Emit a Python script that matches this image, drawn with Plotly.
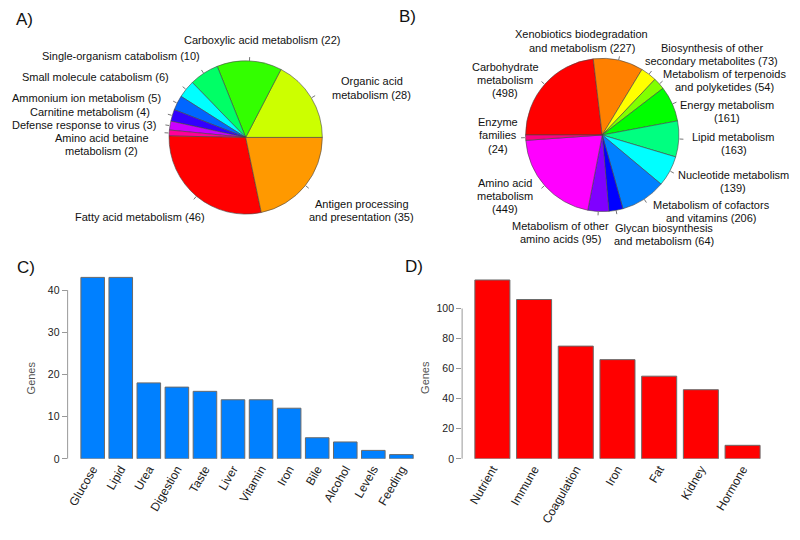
import math
import plotly.graph_objects as go

W, H = 800, 540
# body margin is removed in the page (see write_html post_script), so no offset is needed
OX, OY = 0, 0

# ---------------- DATA ----------------
# Panel A (slices in drawing order, counter-clockwise from 3 o'clock)
a_names = ["Organic acid\nmetabolism", "Carboxylic acid metabolism", "Single-organism catabolism",
           "Small molecule catabolism", "Ammonium ion metabolism", "Carnitine metabolism",
           "Defense response to virus", "Amino acid betaine\nmetabolism", "Fatty acid metabolism",
           "Antigen processing\nand presentation"]
a_values = [28, 22, 10, 6, 5, 4, 3, 2, 46, 35]

# Panel B (slices in drawing order, clockwise from 9 o'clock)
b_names = ["Carbohydrate\nmetabolism\n", "Xenobiotics biodegradation\nand metabolism",
           "Biosynthesis of other\nsecondary metabolites", "Metabolism of terpenoids\nand polyketides",
           "Energy metabolism\n", "Lipid metabolism\n", "Nucleotide metabolism\n",
           "Metabolism of cofactors\nand vitamins", "Glycan biosynthesis\nand metabolism",
           "Metabolism of other\namino acids", "Amino acid\nmetabolism\n", "Enzyme\nfamilies\n"]
b_values = [498, 227, 73, 54, 161, 163, 139, 206, 64, 95, 449, 24]

# Panel C
c_categories = ["Glucose", "Lipid", "Urea", "Digestion", "Taste", "Liver", "Vitamin", "Iron",
                "Bile", "Alcohol", "Levels", "Feeding"]
c_values = [43, 43, 18, 17, 16, 14, 14, 12, 5, 4, 2, 1]
c_ticks = [0, 10, 20, 30, 40]

# Panel D
d_categories = ["Nutrient", "Immune", "Coagulation", "Iron", "Fat", "Kidney", "Hormone"]
d_values = [119, 106, 75, 66, 55, 46, 9]
d_ticks = [0, 20, 40, 60, 80, 100]

# ---------------- STYLE / LAYOUT ----------------
a_colors = ["#CCFF00", "#33FF00", "#00FF66", "#00FFFF", "#0066FF", "#3300FF",
            "#CC00FF", "#FF0099", "#FF0000", "#FF9900"]
b_colors = ["#FF0000", "#FF8000", "#FFFF00", "#80FF00", "#00FF00", "#00FF80",
            "#00FFFF", "#0080FF", "#0000FF", "#8000FF", "#FF00FF", "#FF0080"]

FONT = "Liberation Sans, Arial, sans-serif"
LBL_SIZE = 11
LINE_H = 13.3

pieA = dict(cx=245, cy=139, r=77.5)
pieB = dict(cx=602, cy=136.5, r=77.5)

# label block centres in pixels
a_label_pos = [(371, 89), (261.5, 40), (120, 57), (95, 78), (85.5, 99), (89, 113),
               (83, 126), (101, 146), (139.5, 219), (361, 213)]
b_label_pos = [(505, 81), (581.7, 41.5), (711.7, 55), (724, 81.5), (727, 112.5),
               (733.5, 145.5), (733, 183.5), (711, 213.5), (663.5, 237.5), (560, 235.5),
               (505, 198), (498, 137)]


def X(px):
    return (px - OX) / W


def Y(py):
    return 1 - (py - OY) / H


fig = go.Figure()
shapes = []
annotations = []


def add_pie(names, values, colors, geo, direction, start_deg, label_pos):
    cx, cy, r = geo["cx"], geo["cy"], geo["r"]
    total = float(sum(values))
    # plotly rotation is measured clockwise from 12 o'clock
    rotation = 90 - start_deg
    if direction == "counterclockwise":
        # plotly places the first counter-clockwise slice on the clockwise side of 'rotation'
        rotation -= values[0] / total * 360.0
    fig.add_trace(go.Pie(
        values=values, labels=[n.replace("\n", " ") for n in names],
        marker=dict(colors=colors, line=dict(color="#444444", width=0.6)),
        sort=False, direction=direction, rotation=rotation,
        textinfo="none", showlegend=False, hoverinfo="label+value",
        domain=dict(x=[X(cx - r), X(cx + r)], y=[Y(cy + r), Y(cy - r)]),
    ))
    cum = 0.0
    sgn = 1 if direction == "counterclockwise" else -1
    for i, v in enumerate(values):
        mid = start_deg + sgn * (cum + v / 2.0) / total * 360.0
        cum += v
        t = math.radians(mid)
        x0, y0 = cx + r * math.cos(t), cy - r * math.sin(t)
        x1, y1 = cx + 1.05 * r * math.cos(t), cy - 1.05 * r * math.sin(t)
        shapes.append(dict(type="line", xref="paper", yref="paper",
                           x0=X(x0), y0=Y(y0), x1=X(x1), y1=Y(y1),
                           line=dict(color="#777777", width=1)))
        text = names[i]
        if text.endswith("\n"):
            text = text + "(%d)" % v
        else:
            text = text + " (%d)" % v
        lines = text.split("\n")
        lx, ly = label_pos[i]
        n = len(lines)
        for j, ln in enumerate(lines):
            yy = ly + (j - (n - 1) / 2.0) * LINE_H
            annotations.append(dict(x=X(lx), y=Y(yy), xref="paper", yref="paper",
                                    text=ln, showarrow=False, xanchor="center",
                                    yanchor="middle",
                                    font=dict(family=FONT, size=LBL_SIZE, color="#111111")))


add_pie(a_names, a_values, a_colors, pieA, "counterclockwise", 0, a_label_pos)
add_pie(b_names, b_values, b_colors, pieB, "clockwise", 180, b_label_pos)

# ---------------- BARS ----------------
BASE = 464  # pixel of y = 0


def bar_panel(cats, vals, color, xaxis, yaxis, axis_px, first_center, step, right_px,
              ymax, top_px, ticks, gap):
    fig.add_trace(go.Bar(
        x=cats, y=vals, xaxis=xaxis, yaxis=yaxis, showlegend=False,
        marker=dict(color=color, line=dict(color="#6a6a6a", width=1)),
    ))
    xr = [(axis_px - first_center) / step, (right_px - first_center) / step]
    xname = "xaxis" if xaxis == "x" else "xaxis" + xaxis[1:]
    yname = "yaxis" if yaxis == "y" else "yaxis" + yaxis[1:]
    fig.layout[xname] = dict(
        domain=[X(axis_px), X(right_px)], range=xr, type="category",
        showline=False, showgrid=False, zeroline=False, ticks="",
        tickangle=-60, anchor=yaxis,
        tickfont=dict(family=FONT, size=12, color="#222222"),
    )
    fig.layout[yname] = dict(
        domain=[Y(BASE), Y(top_px)], range=[0, ymax], anchor=xaxis,
        showline=False, showgrid=False, zeroline=False,
        tickmode="array", tickvals=ticks, ticks="outside", ticklen=5,
        tickcolor="#999999", tickwidth=1,
        tickfont=dict(family=FONT, size=10.5, color="#222222"),
    )
    shapes.append(dict(type="line", xref=xaxis + " domain", yref=yaxis,
                       x0=0, x1=0, y0=ticks[0], y1=ticks[-1],
                       line=dict(color="#999999", width=1)))
    fig.update_layout(bargap=gap)


bar_panel(c_categories, c_values, "#0080FF", "x", "y", 66.7, 91.8, 28.1, 420,
          45, 464 - 45 * 4.267, c_ticks, 0.16)
bar_panel(d_categories, d_values, "#FF0000", "x2", "y2", 461.7, 492, 41.75, 785,
          125, 464 - 125 * 1.52, d_ticks, 0.16)

for (gx, gy) in [(30, 381.7), (425, 381.7)]:
    annotations.append(dict(x=X(gx), y=Y(gy), xref="paper", yref="paper", text="Genes",
                            textangle=-90, showarrow=False, xanchor="center", yanchor="middle",
                            font=dict(family=FONT, size=11, color="#555555")))

for (t, px, py) in [("A)", 24, 19.5), ("B)", 407, 17), ("C)", 25, 271), ("D)", 414, 269)]:
    annotations.append(dict(x=X(px), y=Y(py), xref="paper", yref="paper", text=t,
                            showarrow=False, xanchor="center", yanchor="middle",
                            font=dict(family=FONT, size=17, color="#111111")))

fig.update_layout(
    width=W, height=H, margin=dict(l=0, r=0, t=0, b=0),
    paper_bgcolor="white", plot_bgcolor="white",
    shapes=shapes, annotations=annotations,
    font=dict(family=FONT),
)

fig.write_html(
    "out.html",
    config={"displayModeBar": False},
    post_script="document.body.style.margin='0';document.body.style.overflow='hidden';",
)
